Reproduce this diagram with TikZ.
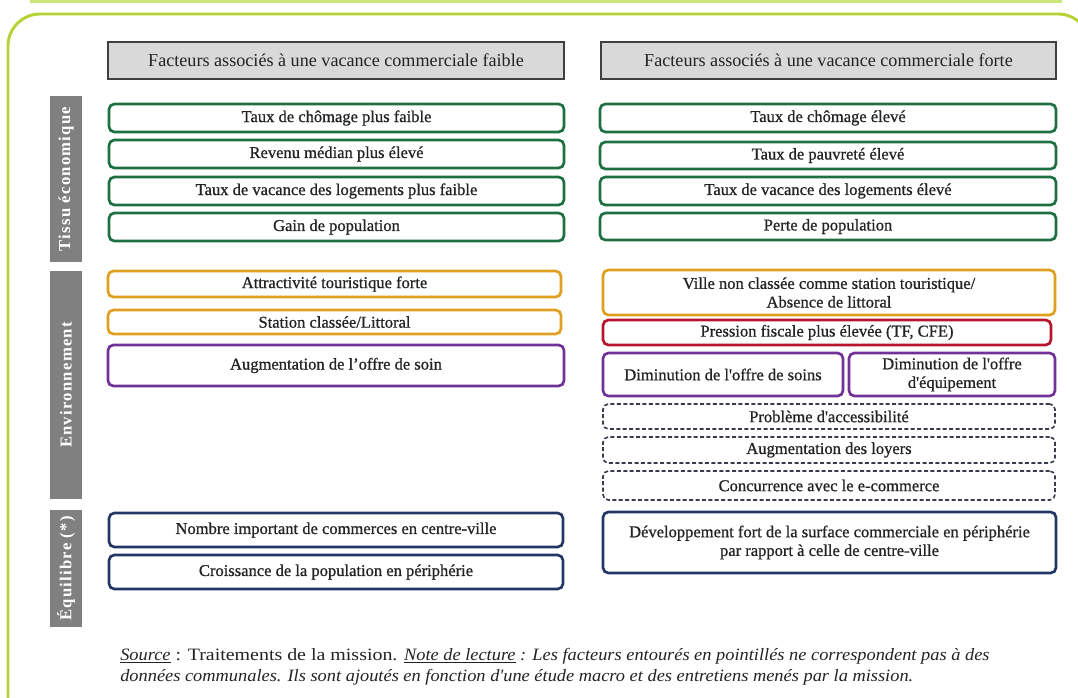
\documentclass[tikz,border=0pt]{standalone}
\usepackage{fontspec}
\setmainfont{Liberation Serif}
\newfontfamily\condit[FakeStretch=1.06]{Liberation Serif}
\newfontfamily\widerm[FakeStretch=1.15]{Liberation Serif}
\newfontfamily\boxfont[FakeBold=0.8]{Liberation Serif}
\usetikzlibrary{positioning}
\definecolor{lime}{RGB}{181,211,52}
\definecolor{limelight}{RGB}{205,228,120}
\definecolor{bgreen}{RGB}{30,112,66}
\definecolor{borange}{RGB}{222,160,30}
\definecolor{bpurple}{RGB}{112,50,150}
\definecolor{bred}{RGB}{185,20,45}
\definecolor{bnavy}{RGB}{35,55,100}
\definecolor{bdash}{RGB}{55,60,75}
\definecolor{hgray}{RGB}{217,217,217}
\definecolor{sgray}{RGB}{128,128,128}
\definecolor{txt}{RGB}{35,35,35}
\tikzset{
  base/.style={rounded corners=4pt, fill=white, inner sep=0pt, align=center, text=txt, font=\boxfont\fontsize{12.4}{14}\selectfont},
  gbox/.style={base, draw=bgreen, line width=2pt},
  obox/.style={base, draw=borange, line width=2pt},
  pbox/.style={base, draw=bpurple, line width=2pt},
  rbox/.style={base, draw=bred, line width=2pt},
  nbox/.style={base, draw=bnavy, line width=2pt},
  dbox/.style={base, draw=bdash, line width=1.2pt, dash pattern=on 3pt off 1.8pt},
  hbox/.style={draw=black!75, line width=0.8pt, fill=hgray, inner sep=0pt, text=txt, font=\fontsize{13.6}{15}\selectfont},
  sbar/.style={fill=sgray, inner sep=0pt},
  stext/.style={rotate=90, text=white, font=\fontsize{12.5}{14}\selectfont\bfseries\addfontfeature{LetterSpace=7.5}}
}
\newcommand\mybox[7]{\node[#6, minimum width={(#4-#2)*0.75pt}, minimum height={(#5-#3)*0.75pt}] (#1) at ({(#2+#4)/2},{(#3+#5)/2}) {#7};}
\newcommand\mybar[6]{\node[#6, minimum width={(#4-#2)*0.75pt}, minimum height={(#5-#3)*0.75pt}] (#1) at ({(#2+#4)/2},{(#3+#5)/2}) {};}
\begin{document}
\begin{tikzpicture}[x=0.75pt,y=-0.75pt]
\useasboundingbox (0,0) rectangle (1078,697);
\fill[white] (0,0) rectangle (1078,697);
% frame
\draw[limelight, line width=1.6pt] (30,1.5) -- (1062,1.5);
\draw[lime, line width=2.2pt, rounded corners=24pt] (8,740) -- (8,14) -- (1090,14) -- (1090,740);
% headers
\mybox{hl}{108}{42}{564}{79}{hbox}{Facteurs associés à une vacance commerciale faible}
\mybox{hr}{601}{42}{1056}{79}{hbox}{Facteurs associés à une vacance commerciale forte}
% side bars
\mybar{s1}{50}{96}{82}{262}{sbar}
\mybar{s2}{50}{271}{82}{499}{sbar}
\mybar{s3}{50}{510}{82}{627}{sbar}
\node[stext] (t1) at (s1.center) {Tissu économique};
\node[stext] (t2) at (s2.center) {Environnement};
\node[stext] (t3) at (s3.center) {Équilibre (*)};
% left column
\mybox{l1}{109}{104}{564}{132}{gbox}{Taux de chômage plus faible}
\mybox{l2}{109}{140}{564}{168}{gbox}{Revenu médian plus élevé}
\mybox{l3}{109}{177}{564}{205}{gbox}{Taux de vacance des logements plus faible}
\mybox{l4}{109}{213}{564}{241}{gbox}{Gain de population}
\mybox{l5}{108}{271}{561}{297}{obox}{Attractivité touristique forte}
\mybox{l6}{108}{310}{561}{334}{obox}{Station classée/Littoral}
\mybox{l7}{108}{345}{564}{386}{pbox}{Augmentation de l’offre de soin}
\mybox{l8}{109}{513}{563}{547}{nbox}{Nombre important de commerces en centre-ville}
\mybox{l9}{109}{555}{563}{589}{nbox}{Croissance de la population en périphérie}
% right column
\mybox{r1}{600}{104}{1056}{132}{gbox}{Taux de chômage élevé}
\mybox{r2}{600}{142}{1056}{169}{gbox}{Taux de pauvreté élevé}
\mybox{r3}{600}{177}{1056}{205}{gbox}{Taux de vacance des logements élevé}
\mybox{r4}{600}{213}{1056}{240}{gbox}{Perte de population}
\mybox{r5}{603}{270}{1055}{315}{obox}{Ville non classée comme station touristique/\\Absence de littoral}
\mybox{r6}{603}{320}{1051}{345}{rbox}{Pression fiscale plus élevée (TF, CFE)}
\mybox{r7}{603}{353}{843}{396}{pbox}{Diminution de l'offre de soins}
\mybox{r8}{849}{353}{1055}{396}{pbox}{Diminution de l'offre\\d'équipement}
\mybox{r9}{603}{404}{1055}{429}{dbox}{Problème d'accessibilité}
\mybox{r10}{603}{437}{1055}{463}{dbox}{Augmentation des loyers}
\mybox{r11}{603}{471}{1055}{500}{dbox}{Concurrence avec le e-commerce}
\mybox{r12}{603}{512}{1056}{573}{nbox}{Développement fort de la surface commerciale en périphérie\\par rapport à celle de centre-ville}
% footer
\node[anchor=west, inner sep=0pt, text=txt, font=\fontsize{13}{15}\selectfont] (f1) at (120,656) {{\condit\itshape\underline{Source}}{\widerm\ : Traitements de la mission. }{\condit\itshape\underline{Note de lecture} : Les facteurs entourés en pointillés ne correspondent pas à des}};
\node[anchor=west, inner sep=0pt, text=txt, font=\fontsize{13}{15}\selectfont\condit\itshape] (f2) at (120,677) {données communales. Ils sont ajoutés en fonction d'une étude macro et des entretiens menés par la mission.};
\end{tikzpicture}
\end{document}
